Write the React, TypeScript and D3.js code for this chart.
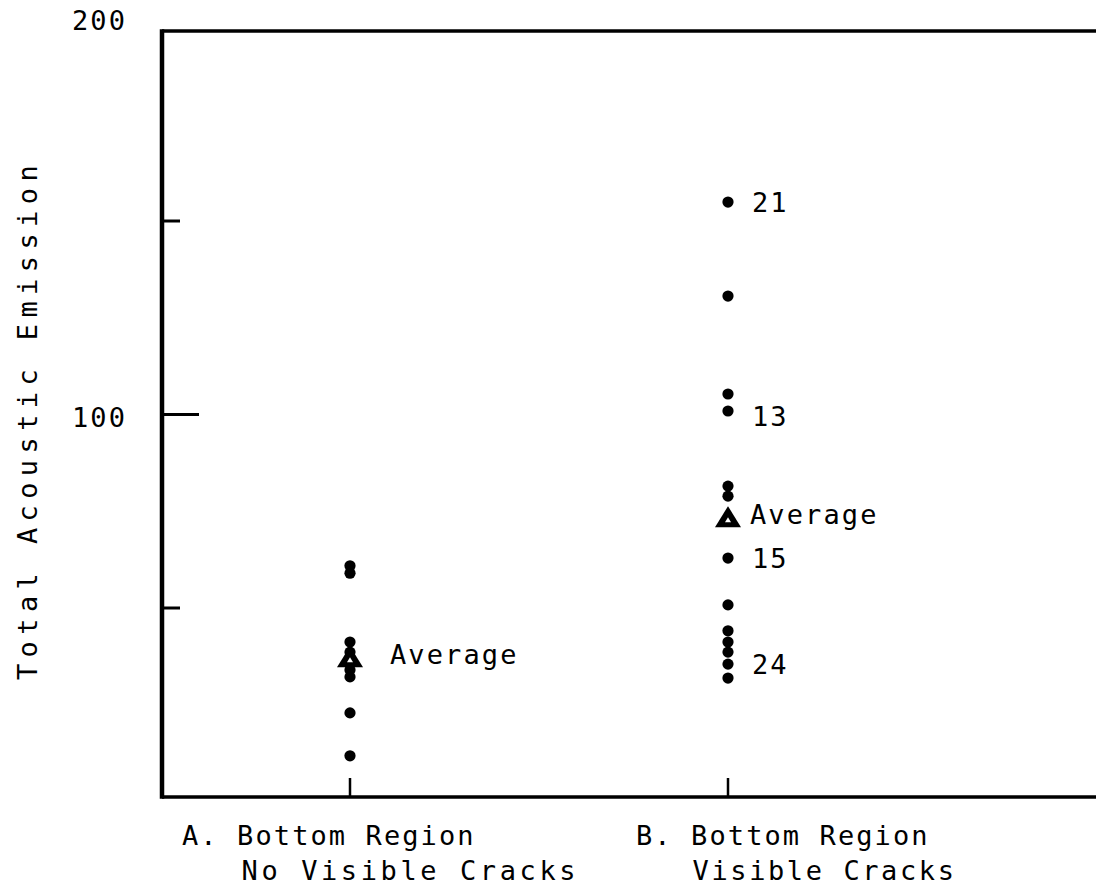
import * as d3 from 'd3'

// values
const categories = ['A', 'B']
const groupA = [60.9, 59.0, 41.2, 38.6, 36.0, 34.0, 32.2, 22.9, 11.8]
const groupB = [154.9, 130.6, 105.3, 100.9, 81.5, 78.9, 62.9, 50.8, 44.1, 41.2, 38.6, 35.5, 31.9]
const averages = [37.4, 73.6]
const averageLabel = 'Average'
const pointLabels = [
  { cat: 'B', value: 154.9, text: '21' },
  { cat: 'B', value: 100.9, text: '13' },
  { cat: 'B', value: 62.9, text: '15' },
  { cat: 'B', value: 35.5, text: '24' }
]
const yTicks = [50, 100, 150]
const yTickLabels = [100, 200]
const categoryLabels = [
  ['A. Bottom Region', '   No Visible Cracks'],
  ['B. Bottom Region', '   Visible Cracks']
]
const yLabel = 'Total Acoustic Emission'

const W = 1096
const H = 888
const FONT = '"DejaVu Sans Mono", monospace'
const FS = 27
const LS = 2.1

export default function App() {
  const x = d3.scalePoint<string>().domain(categories).range([350, 728])
  const y = d3.scaleLinear().domain([0, 200]).range([801.5, 27.5])

  const left = 162
  const top = 31
  const bottom = 797

  const points = [
    ...groupA.map(v => ({ cat: 'A', value: v })),
    ...groupB.map(v => ({ cat: 'B', value: v }))
  ]

  const tri = (cx: number, cy: number, w: number, h: number) =>
    `M${cx - w / 2},${cy + h / 2}L${cx},${cy - h / 2}L${cx + w / 2},${cy + h / 2}Z`

  return (
    <svg width={W} height={H} style={{ position: 'absolute', left: 0, top: 0, background: '#fff' }}>
      <g fontFamily={FONT} fill="#000">
        {/* frame */}
        <line x1={left} x2={W} y1={top} y2={top} stroke="#000" strokeWidth={3.5} />
        <line x1={left} x2={W} y1={bottom} y2={bottom} stroke="#000" strokeWidth={3.5} />
        <line x1={left} x2={left} y1={top - 1.75} y2={bottom + 1.75} stroke="#000" strokeWidth={4.5} />

        {/* y ticks */}
        {yTicks.map(t => (
          <line key={t} x1={left} x2={left + (t === 100 ? 37 : 18)} y1={y(t)} y2={y(t)}
            stroke="#000" strokeWidth={3} />
        ))}
        {yTickLabels.map(t => (
          <text key={t} x={72} y={t === 200 ? 22 : y(t) + 5} dominantBaseline="middle"
            fontSize={FS} letterSpacing={LS}>{t}</text>
        ))}

        {/* x ticks */}
        {categories.map(c => (
          <line key={c} x1={x(c)} x2={x(c)} y1={bottom} y2={bottom - 19} stroke="#000" strokeWidth={2.5} />
        ))}

        {/* category labels */}
        {categories.map((c, i) => {
          const lx = (x(c) as number) - (i === 0 ? 168 : 92)
          return (
            <text key={c} x={lx} y={837} fontSize={FS} letterSpacing={LS}
              style={{ whiteSpace: 'pre' }} dominantBaseline="middle">
              <tspan>{categoryLabels[i][0]}</tspan>
              <tspan x={lx} dy={35} letterSpacing={i === 0 ? 3.6 : 2.6}>{categoryLabels[i][1]}</tspan>
            </text>
          )
        })}

        {/* y label */}
        <text transform={`translate(37,${y(100) + 5}) rotate(-90)`} textAnchor="middle"
          fontSize={FS} letterSpacing={6.4}>{yLabel}</text>

        {/* points */}
        {points.map((p, i) => (
          <circle key={i} cx={x(p.cat)} cy={y(p.value)} r={5.6} fill="#000" />
        ))}

        {/* averages */}
        {categories.map((c, i) => {
          const cx = x(c) as number
          const cy = y(averages[i])
          return (
            <g key={c}>
              <path d={tri(cx, cy, 26, 21)} fill="#000" />
              <path d={tri(cx, cy + 3, 6, 5)} fill="#fff" />
              <text x={cx + (i === 0 ? 40 : 22)} y={cy} dominantBaseline="middle"
                fontSize={FS} letterSpacing={LS}>{averageLabel}</text>
            </g>
          )
        })}

        {/* numbered specimens */}
        {pointLabels.map(l => (
          <text key={l.text} x={(x(l.cat) as number) + 24}
            y={y(l.value) + (l.text === '13' ? 7 : 2)} dominantBaseline="middle"
            fontSize={FS} letterSpacing={LS}>{l.text}</text>
        ))}
      </g>
    </svg>
  )
}
